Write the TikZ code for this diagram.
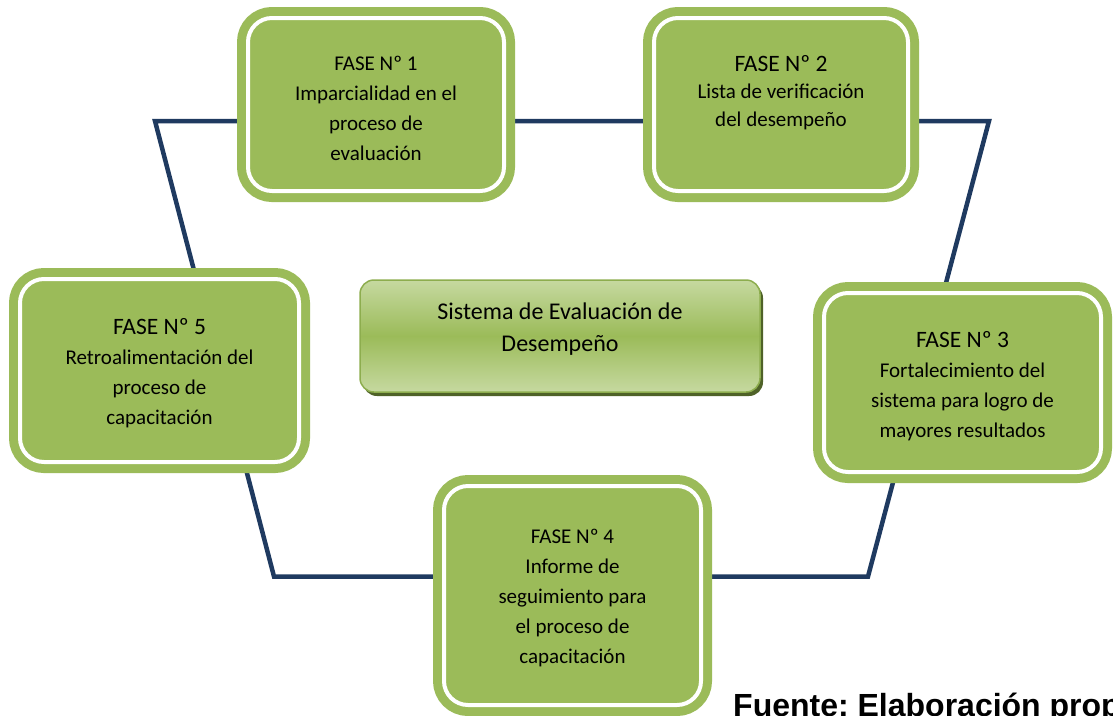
\documentclass[tikz,border=0pt]{standalone}
\usepackage{fontspec}
\setmainfont{Carlito}
\newfontfamily\arialfont{Liberation Sans}
\usetikzlibrary{shadows}
\definecolor{phasegreen}{HTML}{9BBB59}
\definecolor{lightgreen}{HTML}{C6D9A0}
\definecolor{edgegreen}{HTML}{8DAD4E}
\definecolor{shadowgreen}{HTML}{4F6228}
\definecolor{cycleblue}{HTML}{1F3A60}
\newcommand{\bigtitle}[1]{{\fontsize{23.5}{30}\selectfont #1}}
\frenchspacing
\begin{document}
\begin{tikzpicture}[x=1pt,y=-1pt,
  phasebox/.style={rectangle, rounded corners=24pt, fill=phasegreen,
    draw=phasegreen, double=white, double distance=4pt, line width=9pt,
    inner sep=0pt, align=center, text=black,
    font=\fontsize{21}{30}\selectfont},
  sysbox/.style={rectangle, rounded corners=14pt, minimum width=400pt,
    minimum height=112pt, draw=edgegreen, line width=1.5pt,
    top color=lightgreen, bottom color=lightgreen, middle color=phasegreen,
    drop shadow={shadow xshift=3pt, shadow yshift=-4pt, fill=shadowgreen, opacity=1},
    inner sep=0pt, align=center, text=black,
    font=\fontsize{24}{32}\selectfont},
  cycleline/.style={draw=cycleblue, line width=4.5pt},
  source/.style={anchor=base west, inner sep=0pt,
    font=\arialfont\bfseries\fontsize{32}{38}\selectfont}]
\useasboundingbox (0,0) rectangle (1113,715);

% corners of the evaluation cycle
\coordinate (tl) at (155,121);
\coordinate (tr) at (989,121);
\coordinate (br) at (868,576.5);
\coordinate (bl) at (274,576.5);
\draw[cycleline] (tl) -- (tr) -- (br) -- (bl) -- cycle;

% the five phases (a leading empty line lowers the text block a little)
\node[phasebox, minimum width=256pt, minimum height=173pt] (f1) at (376,104.5)
  {\mbox{}\\[-8.5pt]FASE Nº 1\\Imparcialidad en el\\proceso de\\evaluación};
\node[phasebox, minimum width=254pt, minimum height=173pt,
  font=\fontsize{21}{27.5}\selectfont] (f2) at (781,104.5)
  {\bigtitle{FASE Nº 2}\\Lista de verificación\\del desempeño\\[0.5pt]\mbox{}};
\node[phasebox, minimum width=277pt, minimum height=179pt] (f3) at (962.5,382.5)
  {\mbox{}\\[-7pt]\bigtitle{FASE Nº 3}\\Fortalecimiento del\\sistema para logro de\\mayores resultados};
\node[phasebox, minimum width=257pt, minimum height=219pt] (f4) at (572.5,595.5)
  {\mbox{}\\[-11.5pt]FASE Nº 4\\Informe de\\seguimiento para\\el proceso de\\capacitación};
\node[phasebox, minimum width=279pt, minimum height=183pt] (f5) at (159.5,370.5)
  {\mbox{}\\[-8pt]\bigtitle{FASE Nº 5}\\Retroalimentación del\\proceso de\\capacitación};

% central system box
\node[sysbox] (sys) at (560,336)
  {Sistema de Evaluación de\\Desempeño\\[-15pt]\mbox{}};

% source note, running past the right edge of the page
\node[source] (src) at (733,716) {Fuente: Elaboración propia};
\end{tikzpicture}
\end{document}
